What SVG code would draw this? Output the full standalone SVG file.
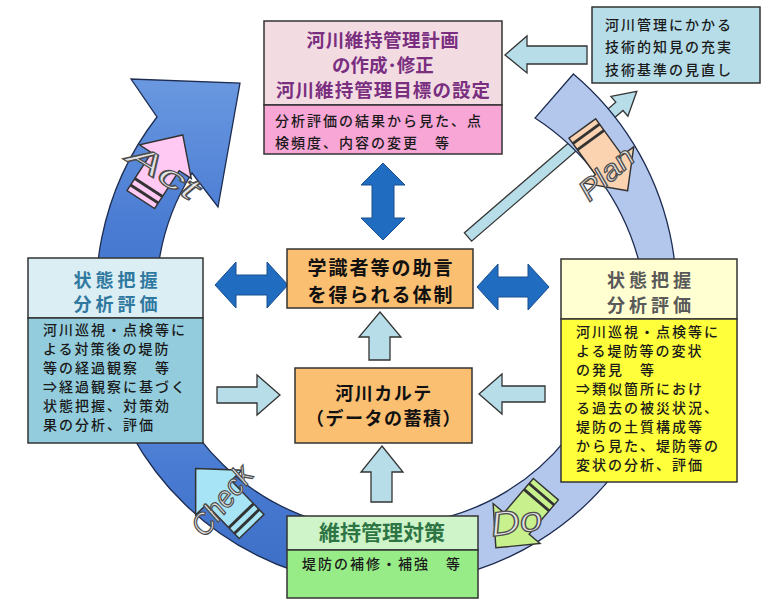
<svg xmlns="http://www.w3.org/2000/svg" width="763" height="603" viewBox="0 0 763 603">
<defs>
<linearGradient id="gDark" x1="0" y1="0" x2="0" y2="1">
<stop offset="0" stop-color="#6a98e0"/>
<stop offset="0.5" stop-color="#4a7cd3"/>
<stop offset="1" stop-color="#3d6ec6"/>
</linearGradient>
<path id="tagArrow" d="M0,-38 L28,-9 L15,-9 L15,32 L-15,32 L-15,-9 L-28,-9 Z"/>
</defs>
<style>
.ring{stroke:#1d2c50;stroke-width:1.3}
.box{stroke:#333;stroke-width:1.5}
.hollow{fill:#b7dde8;stroke:#333;stroke-width:1.3}
.dbl{fill:#1f6cc0;stroke:#1a4f8f;stroke-width:1}
.tag{stroke:#333;stroke-width:1.3}
.stripe{stroke:#333;stroke-width:2.6}
.lbl{font-family:"Liberation Sans",Arial,sans-serif;font-style:italic;fill:#e4e4e4;stroke:#4d4d4d;stroke-width:1.2;text-anchor:middle}
.jt{font-family:"Noto Sans CJK JP",sans-serif;font-weight:700}
.jb{font-family:"Noto Sans CJK JP",sans-serif;font-size:14px;font-weight:500;fill:#1a1a1a;letter-spacing:2px}
</style>
<rect width="763" height="603" fill="#ffffff"/>

<g id="connectors">
<path class="hollow" transform="translate(468,237) rotate(-40.8)" d="M0,-5.5 L200,-5.5 L200,-13 L223,0 L200,13 L200,5.5 L0,5.5 Z"/>
<path id="ring-check" class="ring" fill="url(#gDark)" d="M102.4,355.5 A291,291 0 0 0 336.5,581.6 L346,527.4 A236,236 0 0 1 156.2,344.1 Z"/>
<path id="ring-do" class="ring" fill="#b3c6ec" d="M351.8,581.8 A289,289 0 0 0 658.6,393.8 L603.1,373.7 A230,230 0 0 1 359,523.3 Z"/>
<path id="ring-plan" class="ring" fill="#b3c6ec" d="M649.8,417.6 A290,290 0 0 0 573.4,74 L535,118 A245,245 0 0 1 638,258 L606.3,397.3 Z"/>
<path id="ring-act" class="ring" fill="url(#gDark)" d="M105.9,370.3 A291,291 0 0 1 157,117 L131,79 L240,83 L218,207 L192,173 A231,231 0 0 0 163.9,354.8 Z"/>
<g transform="translate(160,170) rotate(33) scale(1.1)">
<use href="#tagArrow" class="tag" fill="#ffc9f4"/>
<line class="stripe" x1="-15" y1="19" x2="15" y2="19"/><line class="stripe" x1="-15" y1="26" x2="15" y2="26"/>
</g>
<g transform="translate(226,500) rotate(-44) scale(1.15)">
<use href="#tagArrow" class="tag" fill="#a6e4f6"/>
<line class="stripe" x1="-15" y1="19" x2="15" y2="19"/><line class="stripe" x1="-15" y1="26" x2="15" y2="26"/>
</g>
<g transform="translate(523,516) rotate(-139.5) scale(1.1)">
<use href="#tagArrow" class="tag" fill="#c8f08c"/>
<line class="stripe" x1="-15" y1="19" x2="15" y2="19"/><line class="stripe" x1="-15" y1="26" x2="15" y2="26"/>
</g>
<g transform="translate(603,157) rotate(144) scale(1.1)">
<use href="#tagArrow" class="tag" fill="#fcd3b0"/>
<line class="stripe" x1="-15" y1="19" x2="15" y2="19"/><line class="stripe" x1="-15" y1="26" x2="15" y2="26"/>
</g>
<text class="lbl" font-size="32" textLength="78" lengthAdjust="spacingAndGlyphs" transform="translate(158,181) rotate(32)">Act</text>
<text class="lbl" font-size="30" textLength="80" lengthAdjust="spacingAndGlyphs" transform="translate(230,507) rotate(-52)">Check</text>
<text class="lbl" font-size="34" textLength="52" lengthAdjust="spacingAndGlyphs" transform="translate(518,533) rotate(-8)">Do</text>
<text class="lbl" font-size="29" textLength="64" lengthAdjust="spacingAndGlyphs" transform="translate(613,181) rotate(-42)">Plan</text>
<path class="hollow" d="M505,55 L527,36 L527,46 L587,46 L587,64 L527,64 L527,73 Z"/>
<path class="hollow" d="M217,387 L257,387 L257,375 L280,395 L257,415 L257,403 L217,403 Z"/>
<path class="hollow" d="M479,394 L502,374 L502,386 L545,386 L545,402 L502,402 L502,414 Z"/>
<path class="hollow" d="M380,312 L401,337 L390,337 L390,360 L369,360 L369,337 L359,337 Z"/>
<path class="hollow" d="M382,446 L403,472 L392,472 L392,502 L371,502 L371,472 L361,472 Z"/>
<path class="dbl" d="M383,163 L405,185 L394,185 L394,218 L405,218 L383,240 L361,218 L372,218 L372,185 L361,185 Z"/>
<path class="dbl" d="M215,285 L236,262 L236,275 L267,275 L267,262 L288,285 L267,308 L267,295 L236,295 L236,308 Z"/>
<path class="dbl" d="M477,287 L498,264 L498,277 L528,277 L528,264 L549,287 L528,310 L528,297 L498,297 L498,310 Z"/>
</g>

<g id="plan-box">
<rect class="box" x="264" y="21" width="238" height="84" fill="#f2dce2"/>
<rect class="box" x="264" y="105" width="238" height="49" fill="#f7a6d6"/>
<text class="jt" font-size="18.5" fill="#7a2e80" text-anchor="middle"><tspan x="383" y="46.5" letter-spacing="0.6">河川維持管理計画</tspan><tspan x="383" y="71.5">の作成･修正</tspan><tspan x="383" y="96.5" textLength="214" lengthAdjust="spacing">河川維持管理目標の設定</tspan></text>
<text class="jb" font-size="15" letter-spacing="1.5"><tspan x="275" y="125.5">分析評価の結果から見た、点</tspan><tspan x="275" y="147.5">検頻度、内容の変更　等</tspan></text>
</g>

<g id="knowledge-box">
<rect class="box" x="592" y="7" width="168" height="76" fill="#b6dde8"/>
<text class="jb" font-size="16.5" letter-spacing="2"><tspan x="605" y="29.5">河川管理にかかる</tspan><tspan x="605" y="52">技術的知見の充実</tspan><tspan x="605" y="74.5">技術基準の見直し</tspan></text>
</g>

<g id="left-box">
<rect class="box" x="28" y="258" width="175" height="60" fill="#dbeef4"/>
<rect class="box" x="28" y="318" width="175" height="125" fill="#93cddd"/>
<text class="jt" font-size="18" fill="#2f78a0" text-anchor="middle" letter-spacing="4"><tspan x="117.5" y="286.5">状態把握</tspan><tspan x="117.5" y="311">分析評価</tspan></text>
<text class="jb"><tspan x="43" y="335">河川巡視・点検等に</tspan><tspan x="43" y="354">よる対策後の堤防</tspan><tspan x="43" y="373">等の経過観察　等</tspan><tspan x="43" y="392">⇒経過観察に基づく</tspan><tspan x="43" y="411">状態把握、対策効</tspan><tspan x="43" y="430">果の分析、評価</tspan></text>
</g>

<g id="right-box">
<rect class="box" x="561" y="259" width="176" height="60" fill="#ffffd2"/>
<rect class="box" x="561" y="319" width="176" height="163" fill="#ffff3b"/>
<text class="jt" font-size="18" fill="#595959" text-anchor="middle" letter-spacing="4"><tspan x="651" y="287">状態把握</tspan><tspan x="651" y="311.5">分析評価</tspan></text>
<text class="jb"><tspan x="576" y="337">河川巡視・点検等に</tspan><tspan x="576" y="356">よる堤防等の変状</tspan><tspan x="576" y="375">の発見　等</tspan><tspan x="576" y="394">⇒類似箇所におけ</tspan><tspan x="576" y="413">る過去の被災状況、</tspan><tspan x="576" y="432">堤防の土質構成等</tspan><tspan x="576" y="451">から見た、堤防等の</tspan><tspan x="576" y="470">変状の分析、評価</tspan></text>
</g>

<g id="advice-box">
<rect class="box" x="287" y="249" width="186" height="59" fill="#fbbf72"/>
<text class="jt" font-size="19" fill="#111" text-anchor="middle" letter-spacing="2"><tspan x="381" y="275">学識者等の助言</tspan><tspan x="381" y="302">を得られる体制</tspan></text>
</g>

<g id="karte-box">
<rect class="box" x="295" y="368" width="177" height="75" fill="#fbbf72"/>
<text class="jt" font-size="18" fill="#111" text-anchor="middle" letter-spacing="1.5"><tspan x="384" y="400">河川カルテ</tspan><tspan x="384" y="425">（データの蓄積）</tspan></text>
</g>

<g id="measure-box">
<rect class="box" x="287" y="516" width="191" height="34" fill="#cff4c9"/>
<rect class="box" x="287" y="550" width="191" height="48" fill="#97ec87"/>
<text class="jt" font-size="21" fill="#2d7545" text-anchor="middle" x="382" y="540">維持管理対策</text>
<text class="jb" font-size="15" letter-spacing="1.5" x="302" y="568.5">堤防の補修・補強　等</text>
</g>
</svg>
